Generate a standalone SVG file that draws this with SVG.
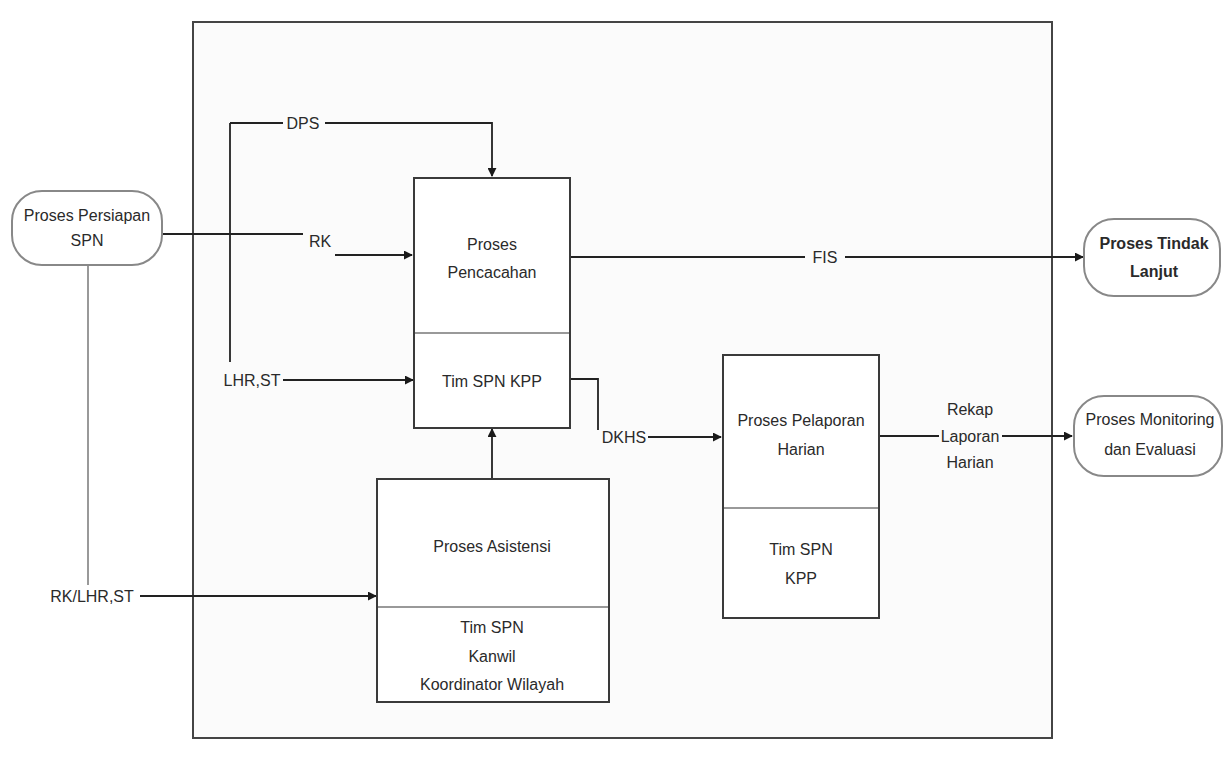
<svg xmlns="http://www.w3.org/2000/svg" width="1224" height="764" viewBox="0 0 1224 764">
<defs>
<marker id="ah" viewBox="0 0 10 10" refX="9" refY="5" markerWidth="9" markerHeight="9" markerUnits="userSpaceOnUse" orient="auto">
<path d="M0,0 L10,5 L0,10 z" fill="#1a1a1a"/>
</marker>
<style>
text{font-family:"Liberation Sans",Arial,sans-serif;font-size:16px;fill:#2a2a2a;text-anchor:middle}
.box{fill:#fff;stroke:#3a3a3a;stroke-width:2}
.div{stroke:#777;stroke-width:1.5}
.pill{fill:#fff;stroke:#888;stroke-width:2}
.ln{fill:none;stroke:#222;stroke-width:1.8}
.arr{fill:none;stroke:#222;stroke-width:1.8;marker-end:url(#ah)}
.gl{fill:none;stroke:#999;stroke-width:2}
.b{font-weight:bold}
</style>
</defs>
<rect width="1224" height="764" fill="#fff"/>
<rect id="frame" x="193" y="22" width="859" height="716" fill="#fbfbfb" stroke="#444" stroke-width="2"/>

<g id="connectors">
<line class="gl" x1="88" y1="265" x2="88" y2="585"/>
<line class="arr" x1="140" y1="596" x2="376" y2="596"/>
<line class="ln" x1="230" y1="123" x2="230" y2="362"/>
<line class="ln" x1="230" y1="123" x2="283" y2="123"/>
<polyline class="arr" points="325,123 492,123 492,176"/>
<line class="ln" x1="162" y1="234" x2="303" y2="234"/>
<line class="arr" x1="335" y1="255" x2="412" y2="255"/>
<line class="arr" x1="283" y1="380" x2="413" y2="380"/>
<line class="ln" x1="570" y1="257" x2="805" y2="257"/>
<line class="arr" x1="845" y1="257" x2="1083" y2="257"/>
<polyline class="ln" points="570,379 598,379 598,430"/>
<line class="arr" x1="648" y1="437" x2="721" y2="437"/>
<line class="arr" x1="492" y1="478" x2="492" y2="429"/>
<line class="ln" x1="880" y1="436" x2="939" y2="436"/>
<line class="arr" x1="1002" y1="436" x2="1072" y2="436"/>
<text x="303" y="129">DPS</text>
<text x="320" y="247">RK</text>
<text x="252" y="386">LHR,ST</text>
<text x="92" y="602">RK/LHR,ST</text>
<text x="825" y="263">FIS</text>
<text x="624" y="443">DKHS</text>
<text x="970" y="415">Rekap</text>
<text x="970" y="442">Laporan</text>
<text x="970" y="468">Harian</text>
</g>

<g id="persiapan">
<rect class="pill" x="12" y="191" width="150" height="74" rx="30"/>
<text x="87" y="221">Proses Persiapan</text>
<text x="87" y="246">SPN</text>
</g>

<g id="pencacahan">
<rect class="box" x="414" y="178" width="156" height="250"/>
<line class="div" x1="415" y1="333" x2="569" y2="333"/>
<text x="492" y="250">Proses</text>
<text x="492" y="278">Pencacahan</text>
<text x="492" y="387">Tim SPN KPP</text>
</g>

<g id="asistensi">
<rect class="box" x="377" y="479" width="232" height="223"/>
<line class="div" x1="378" y1="607" x2="608" y2="607"/>
<text x="492" y="552">Proses Asistensi</text>
<text x="492" y="633">Tim SPN</text>
<text x="492" y="662">Kanwil</text>
<text x="492" y="690">Koordinator Wilayah</text>
</g>

<g id="pelaporan">
<rect class="box" x="723" y="355" width="156" height="263"/>
<line class="div" x1="724" y1="508" x2="878" y2="508" stroke="#bbb"/>
<text x="801" y="426">Proses Pelaporan</text>
<text x="801" y="455">Harian</text>
<text x="801" y="555">Tim SPN</text>
<text x="801" y="584">KPP</text>
</g>

<g id="tindaklanjut">
<rect class="pill" x="1084" y="219" width="136" height="77" rx="30"/>
<text class="b" x="1154" y="249">Proses Tindak</text>
<text class="b" x="1154" y="277">Lanjut</text>
</g>

<g id="monev">
<rect class="pill" x="1074" y="396" width="148" height="80" rx="30"/>
<text x="1150" y="425">Proses Monitoring</text>
<text x="1150" y="455">dan Evaluasi</text>
</g>
</svg>
